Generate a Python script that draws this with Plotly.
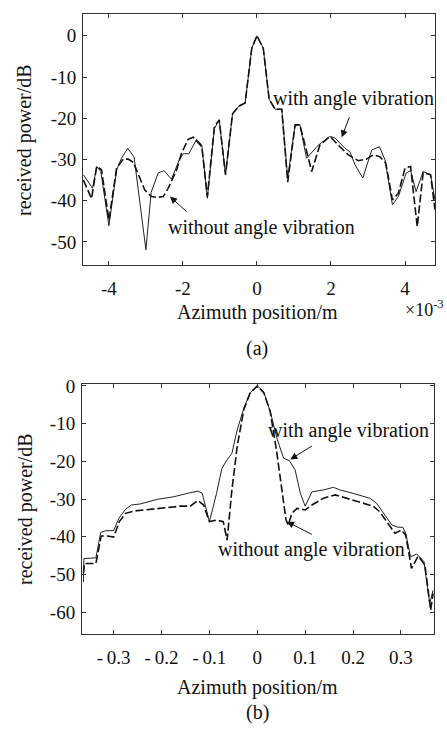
import plotly.graph_objects as go

# ---------------- data: panel (a)  (x in units of 1e-3 m) ----------------
xa_with = [-4.69, -4.44, -4.33, -4.22, -4.00, -3.79, -3.66, -3.49, -3.32, -3.00,
           -2.86, -2.67, -2.51, -2.31, -2.10, -1.99, -1.84, -1.63, -1.49, -1.34,
           -1.15, -1.02, -0.85, -0.66, -0.48, -0.32, -0.14, 0.00, 0.17, 0.33,
           0.49, 0.67, 0.83, 1.03, 1.16, 1.34, 1.66, 1.97, 2.11, 2.38,
           2.51, 2.65, 2.86, 3.10, 3.31, 3.46, 3.66, 3.82, 4.03, 4.15,
           4.30, 4.49, 4.69, 4.81]
ya_with = [-33.7, -37.0, -31.7, -32.9, -46.1, -32.5, -29.7, -27.3, -29.4, -51.9,
           -38.0, -33.3, -32.7, -34.8, -30.1, -28.6, -28.6, -25.1, -26.5, -39.4,
           -22.5, -20.4, -33.7, -18.9, -17.0, -16.3, -3.0, 0.0, -3.0, -15.4,
           -17.8, -17.8, -34.5, -21.6, -21.6, -29.7, -26.5, -24.4, -24.8, -27.3,
           -28.1, -31.3, -34.5, -27.7, -26.9, -30.1, -41.0, -39.0, -33.3, -32.7,
           -37.8, -32.9, -33.7, -39.8]

xa_without = [-4.69, -4.47, -4.33, -4.20, -4.00, -3.79, -3.61, -3.48, -3.34, -3.03,
              -2.85, -2.71, -2.53, -2.40, -2.17, -2.04, -1.86, -1.72, -1.49, -1.34,
              -1.15, -1.02, -0.85, -0.66, -0.48, -0.32, -0.14, 0.00, 0.17, 0.33,
              0.49, 0.67, 0.83, 1.03, 1.16, 1.48, 1.70, 1.97, 2.24, 2.47,
              2.74, 2.96, 3.14, 3.32, 3.48, 3.66, 3.82, 4.00, 4.15, 4.33,
              4.49, 4.69, 4.81]
ya_without = [-35.0, -39.5, -31.7, -32.5, -44.7, -32.0, -29.9, -29.9, -30.7, -37.4,
              -39.0, -39.2, -39.0, -37.0, -32.5, -28.5, -25.1, -24.6, -26.9, -39.0,
              -22.0, -20.4, -33.7, -18.9, -17.0, -16.3, -3.0, 0.0, -3.0, -15.4,
              -17.8, -17.8, -35.5, -21.6, -21.6, -32.9, -26.5, -24.4, -26.9, -28.9,
              -30.3, -29.9, -28.9, -29.3, -30.9, -39.8, -38.2, -32.1, -31.7, -46.3,
              -33.2, -33.7, -42.2]

# ---------------- data: panel (b)  (x in m) ----------------
xb_with = [-0.363, -0.362, -0.337, -0.327, -0.317, -0.300, -0.289, -0.275, -0.263, -0.244,
           -0.209, -0.174, -0.146, -0.124, -0.115, -0.100, -0.085, -0.074, -0.063, -0.053,
           -0.042, -0.028, -0.015, 0.000, 0.013, 0.027, 0.042, 0.055, 0.067, 0.079,
           0.090, 0.100, 0.114, 0.138, 0.159, 0.173, 0.200, 0.235, 0.249, 0.267,
           0.281, 0.294, 0.304, 0.310, 0.320, 0.333, 0.348, 0.360, 0.367]
yb_with = [-52.0, -45.8, -45.6, -38.9, -38.4, -38.4, -35.1, -32.7, -31.6, -31.3,
           -30.1, -29.4, -28.5, -27.9, -28.5, -36.0, -28.5, -21.9, -19.6, -17.9,
           -11.7, -5.9, -1.9, 0.0, -1.5, -6.8, -14.3, -19.2, -19.8, -22.3,
           -28.5, -31.9, -28.1, -27.6, -26.9, -27.6, -28.5, -29.8, -31.1, -34.2,
           -36.9, -37.5, -37.5, -39.1, -45.3, -44.6, -46.6, -57.7, -54.2]

xb_without = [-0.363, -0.361, -0.337, -0.326, -0.313, -0.300, -0.288, -0.275, -0.258, -0.209,
              -0.160, -0.140, -0.124, -0.112, -0.100, -0.085, -0.071, -0.063, -0.053, -0.042,
              -0.028, -0.015, 0.000, 0.014, 0.027, 0.040, 0.051, 0.060, 0.065, 0.072,
              0.083, 0.100, 0.114, 0.138, 0.1625, 0.200, 0.242, 0.256, 0.270, 0.2875,
              0.301, 0.310, 0.322, 0.336, 0.350, 0.362, 0.367]
yb_without = [-49.7, -47.1, -47.1, -39.8, -39.8, -40.1, -36.0, -33.8, -33.2, -32.5,
              -31.9, -31.9, -30.4, -31.6, -36.0, -35.6, -36.0, -40.9, -27.6, -16.1,
              -6.2, -1.9, 0.0, -1.9, -6.8, -17.0, -27.6, -35.6, -36.9, -33.8,
              -32.5, -32.9, -31.6, -29.8, -28.9, -30.3, -31.9, -33.4, -36.0, -39.1,
              -38.2, -39.6, -48.4, -45.1, -47.5, -59.5, -55.0]

# tick labels
xa_ticks = [-4, -2, 0, 2, 4]
xa_ticktext = ["-4", "-2", "0", "2", "4"]
ya_ticks = [-50, -40, -30, -20, -10, 0]
ya_ticktext = ["-50", "-40", "-30", "-20", "-10", "0"]
xb_ticks = [-0.3, -0.2, -0.1, 0, 0.1, 0.2, 0.3]
xb_ticktext = ["-\u20090.3", "-\u20090.2", "-\u20090.1", "0", "0.1", "0.2", "0.3"]
yb_ticks = [-60, -50, -40, -30, -20, -10, 0]
yb_ticktext = ["-60", "-50", "-40", "-30", "-20", "-10", "0"]

label_with = "with angle vibration"
label_without = "without angle vibration"
x_title = "Azimuth position/m"
y_title = "received power/dB"

# ---------------- figure ----------------
W, H = 447, 729
FONT = "Liberation Serif"
INK = "#111111"


def pxx(px):
    return px / W


def pyy(py):
    return 1 - py / H


fig = go.Figure()
solid = dict(color="#222222", width=1)
dashed = dict(color=INK, width=1.6, dash="8px,3px")

fig.add_trace(go.Scatter(x=xa_with, y=ya_with, mode="lines", line=solid,
                         xaxis="x", yaxis="y", showlegend=False))
fig.add_trace(go.Scatter(x=xa_without, y=ya_without, mode="lines", line=dashed,
                         xaxis="x", yaxis="y", showlegend=False))
fig.add_trace(go.Scatter(x=xb_with, y=yb_with, mode="lines", line=solid,
                         xaxis="x2", yaxis="y2", showlegend=False))
fig.add_trace(go.Scatter(x=xb_without, y=yb_without, mode="lines", line=dashed,
                         xaxis="x2", yaxis="y2", showlegend=False))

tickfont = dict(family=FONT, size=19, color=INK)
common = dict(ticks="inside", ticklen=4, tickwidth=1, tickcolor="#333333",
              showline=True, linecolor="#333333", linewidth=1, mirror="ticks",
              showgrid=False, zeroline=False, tickfont=tickfont, automargin=False)

fig.update_layout(
    width=W, height=H,
    margin=dict(l=0, r=0, t=0, b=0),
    paper_bgcolor="white", plot_bgcolor="white",
    font=dict(family=FONT, color=INK),
    xaxis=dict(domain=[pxx(83), pxx(435)], anchor="y", range=[-4.70, 4.81],
               tickmode="array", tickvals=xa_ticks, ticktext=xa_ticktext,
               ticklabelstandoff=6, **common),
    yaxis=dict(domain=[pyy(265), pyy(14)], anchor="x", range=[-55.6, 5.3],
               tickmode="array", tickvals=ya_ticks, ticktext=ya_ticktext,
               ticklabelstandoff=2, **common),
    xaxis2=dict(domain=[pxx(82), pxx(434)], anchor="y2", range=[-0.366, 0.369],
                tickmode="array", tickvals=xb_ticks, ticktext=xb_ticktext,
                ticklabelstandoff=6, **common),
    yaxis2=dict(domain=[pyy(634), pyy(384)], anchor="x2", range=[-65.8, 0.5],
                tickmode="array", tickvals=yb_ticks, ticktext=yb_ticktext,
                ticklabelstandoff=2, **common),
)

tfont = dict(family=FONT, size=20, color=INK)
ann = []
# axis titles and panel labels
for pyc in (140, 509):
    ann.append(dict(text=y_title, x=pxx(25), y=pyy(pyc), xref="paper", yref="paper",
                    textangle=-90, showarrow=False, font=tfont,
                    xanchor="center", yanchor="middle"))
for pyc in (312, 687):
    ann.append(dict(text=x_title, x=pxx(257), y=pyy(pyc), xref="paper", yref="paper",
                    showarrow=False, font=tfont, xanchor="center", yanchor="middle"))
ann.append(dict(text="(a)", x=pxx(257), y=pyy(348), xref="paper", yref="paper",
                showarrow=False, font=tfont, xanchor="center", yanchor="middle"))
ann.append(dict(text="(b)", x=pxx(257), y=pyy(712), xref="paper", yref="paper",
                showarrow=False, font=tfont, xanchor="center", yanchor="middle"))
ann.append(dict(text="×10<sup>-3</sup>", x=pxx(446), y=pyy(308), xref="paper", yref="paper",
                showarrow=False, font=dict(family=FONT, size=18, color=INK),
                xanchor="right", yanchor="middle"))

# curve labels (data coordinates)
ann.append(dict(text=label_with, x=2.6, y=-15.1, xref="x", yref="y", showarrow=False,
                font=tfont, xanchor="center", yanchor="middle"))
ann.append(dict(text=label_without, x=0.13, y=-46.4, xref="x", yref="y", showarrow=False,
                font=tfont, xanchor="center", yanchor="middle"))
ann.append(dict(text=label_with, x=0.19, y=-11.7, xref="x2", yref="y2", showarrow=False,
                font=tfont, xanchor="center", yanchor="middle"))
ann.append(dict(text=label_without, x=0.114, y=-43.5, xref="x2", yref="y2", showarrow=False,
                font=tfont, xanchor="center", yanchor="middle"))

# arrows: tip (x, y), tail (ax, ay)
arrows = [
    ("x", "y", 2.29, -24.6, 2.51, -19.4),
    ("x", "y", -2.35, -39.0, -1.86, -43.0),
    ("x2", "y2", 0.069, -19.5, 0.117, -15.7),
    ("x2", "y2", 0.062, -36.0, 0.117, -39.6),
]
for xr, yr, x, y, ax, ay in arrows:
    ann.append(dict(text="", x=x, y=y, ax=ax, ay=ay, xref=xr, yref=yr,
                    axref=xr, ayref=yr, showarrow=True, arrowhead=2,
                    arrowsize=1.4, arrowwidth=1, arrowcolor=INK, standoff=0))

fig.update_layout(annotations=ann)

fig.write_html(
    "out.html",
    config={"displayModeBar": False},
    post_script="document.body.style.margin='0';document.body.style.overflow='hidden';",
)
